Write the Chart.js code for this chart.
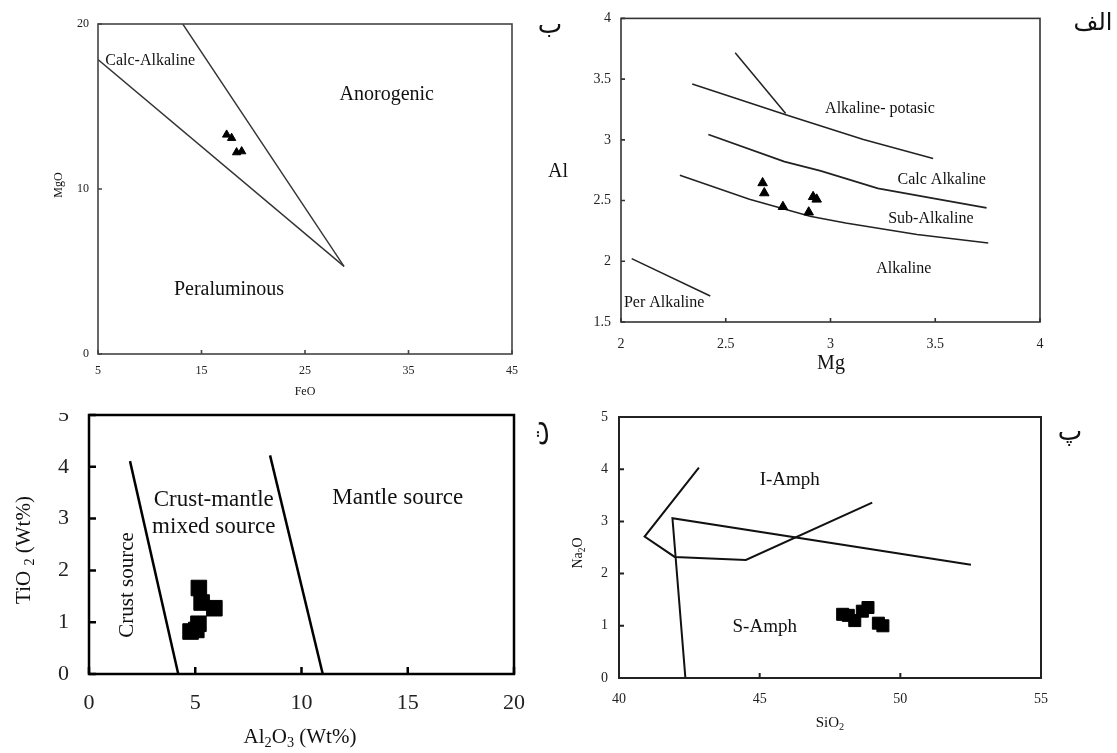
<!DOCTYPE html>
<html>
<head>
<meta charset="utf-8">
<script src="https://cdn.jsdelivr.net/npm/chart.js@4.4.1/dist/chart.umd.min.js"></script>
<style>
html, body { margin: 0; padding: 0; background: #fff; }
#page { position: relative; width: 1117px; height: 753px; overflow: hidden; background: #fff; }
.panel { position: absolute; left: 0; top: 0; width: 1117px; height: 753px; }
#mask { position: absolute; left: 40px; top: 395px; width: 45px; height: 18px; background: #fff; }
</style>
</head>
<body>
<div id="page">
  <div class="panel"><canvas id="chartT"></canvas></div>
  <div id="mask"></div>
  <div class="panel"><canvas id="chartB"></canvas></div>
  <div class="panel"><canvas id="chartAlef"></canvas></div>
  <div class="panel"><canvas id="chartP"></canvas></div>
</div>
<script>
// ---- panel ب : FeO vs MgO ----
const feoTicks = [5, 15, 25, 35, 45];
const mgoTicks = [0, 10, 20];
const feoSamples = [17.43, 17.91, 18.39, 18.88];
const mgoSamples = [13.29, 13.09, 12.22, 12.28];
const calcAlkLowerLine = [[5, 17.84], [28.77, 5.31]];
const calcAlkUpperLine = [[13.19, 20], [28.77, 5.31]];

// ---- panel الف : Mg vs Al ----
const mgTicks = [2, 2.5, 3, 3.5, 4];
const alTicks = [1.5, 2, 2.5, 3, 3.5, 4];
const mgSamples = [2.676, 2.684, 2.773, 2.896, 2.917, 2.934];
const alSamples = [2.645, 2.562, 2.449, 2.404, 2.531, 2.510];
const potasicLine = [[2.34, 3.46], [2.79, 3.205], [3.157, 3.003], [3.49, 2.846]];
const potasicSpur = [[2.545, 3.717], [2.786, 3.217]];
const calcAlkLine = [[2.417, 3.044], [2.78, 2.82], [2.953, 2.744], [3.226, 2.60], [3.498, 2.516], [3.745, 2.44]];
const subAlkLine = [[2.281, 2.709], [2.613, 2.511], [2.902, 2.371], [3.072, 2.316], [3.413, 2.22], [3.753, 2.151]];
const perAlkLine = [[2.051, 2.022], [2.426, 1.714]];

// ---- panel ت : Al2O3 vs TiO2 ----
const al2o3Ticks = [0, 5, 10, 15, 20];
const tio2Ticks = [0, 1, 2, 3, 4, 5];
const al2o3Samples = [5.17, 5.30, 5.90, 5.15, 4.78, 5.05];
const tio2Samples = [1.66, 1.38, 1.27, 0.97, 0.82, 0.85];
const crustLine = [[1.93, 4.11], [4.2, 0]];
const mantleLine = [[8.52, 4.22], [11.0, 0]];

// ---- panel پ : SiO2 vs Na2O ----
const sio2Ticks = [40, 45, 50, 55];
const na2oTicks = [0, 1, 2, 3, 4, 5];
const sio2Samples = [47.95, 48.15, 48.38, 48.65, 48.85, 49.22, 49.38];
const na2oSamples = [1.22, 1.20, 1.10, 1.28, 1.35, 1.05, 1.00];
const iAmphLine = [[42.84, 4.03], [40.91, 2.71], [41.98, 2.32], [44.51, 2.26], [49.0, 3.36]];
const sAmphLine = [[42.36, 0], [41.9, 3.06], [52.51, 2.17]];

const SERIF = '"Liberation Serif", "Times New Roman", serif';
const PERSIAN = '"DejaVu Sans", "Noto Sans", sans-serif';
const W = 1117, H = 753;

// متن با زیرنویس (Al2O3 ...)
function drawRich(ctx, parts, x, y, size, rot, align, family) {
  const fam = family || SERIF;
  const fontOf = p => (p.sub ? size * 0.68 : size) + 'px ' + fam;
  let w = 0;
  parts.forEach(p => { ctx.font = fontOf(p); w += ctx.measureText(p.t).width; });
  ctx.save();
  ctx.translate(x, y);
  ctx.rotate(rot || 0);
  let cx = align === 'left' ? 0 : (align === 'right' ? -w : -w / 2);
  ctx.textAlign = 'left';
  ctx.textBaseline = 'middle';
  ctx.fillStyle = '#111';
  parts.forEach(p => {
    ctx.font = fontOf(p);
    ctx.fillText(p.t, cx, p.sub ? size * 0.3 : 0);
    cx += ctx.measureText(p.t).width;
  });
  ctx.restore();
}

// frame, inner ticks and labels for a panel
function panelDecor(spec) {
  return {
    id: 'panelDecor',
    afterDraw(chart) {
      const ctx = chart.ctx, a = chart.chartArea;
      const sx = chart.scales.x, sy = chart.scales.y;
      ctx.save();
      ctx.strokeStyle = spec.frameColor;
      ctx.lineWidth = spec.frameWidth;
      ctx.strokeRect(a.left, a.top, a.right - a.left, a.bottom - a.top);
      ctx.beginPath();
      sx.ticks.forEach(t => {
        const px = sx.getPixelForValue(t.value);
        ctx.moveTo(px, a.bottom); ctx.lineTo(px, a.bottom - spec.tickLen);
      });
      sy.ticks.forEach(t => {
        const py = sy.getPixelForValue(t.value);
        ctx.moveTo(a.left, py); ctx.lineTo(a.left + spec.tickLen, py);
      });
      ctx.stroke();
      ctx.restore();
      spec.labels.forEach(l => {
        const px = l.page ? l.x : sx.getPixelForValue(l.x);
        const py = l.page ? l.y : sy.getPixelForValue(l.y);
        drawRich(ctx, l.parts || [{ t: l.text }], px, py, l.size, l.rot, l.align, l.family);
      });
    }
  };
}

function toPoints(pts) { return pts.map(p => ({ x: p[0], y: p[1] })); }
function zip(xs, ys) { return xs.map((x, i) => ({ x: x, y: ys[i] })); }

function lineSet(pts, color, width) {
  return { data: toPoints(pts), showLine: true, borderColor: color, borderWidth: width,
           pointRadius: 0, fill: false, tension: 0, order: 2 };
}
function sampleSet(xs, ys, style, r) {
  return { data: zip(xs, ys), showLine: false, pointStyle: style, pointRadius: r,
           backgroundColor: '#000', borderColor: '#000', pointBorderWidth: 1, order: 1 };
}

function makePanel(id, spec) {
  const a = spec.area;
  const fixedTicks = vals => function (scale) { scale.ticks = vals.map(v => ({ value: v })); };
  const plain = v => String(v);
  new Chart(document.getElementById(id), {
    type: 'scatter',
    data: { datasets: spec.datasets },
    options: {
      responsive: true,
      maintainAspectRatio: false,
      animation: false,
      events: [],
      layout: { padding: { left: a.left - spec.yw, top: a.top, right: W - a.right, bottom: H - a.bottom - spec.xh } },
      plugins: { legend: { display: false }, tooltip: { enabled: false } },
      scales: {
        x: {
          type: 'linear', min: spec.xTicks[0], max: spec.xTicks[spec.xTicks.length - 1],
          afterBuildTicks: fixedTicks(spec.xTicks),
          afterFit: s => { s.height = spec.xh; },
          grid: { display: false, drawTicks: false },
          border: { display: false },
          ticks: { font: { family: SERIF, size: spec.tickSize }, color: '#222', padding: spec.xPad,
                   maxRotation: 0, autoSkip: false, callback: plain }
        },
        y: {
          type: 'linear', min: spec.yTicks[0], max: spec.yTicks[spec.yTicks.length - 1],
          afterBuildTicks: fixedTicks(spec.yTicks),
          afterFit: s => { s.width = spec.yw; },
          grid: { display: false, drawTicks: false },
          border: { display: false },
          ticks: { font: { family: SERIF, size: spec.tickSize }, color: '#222', padding: spec.yPad,
                   autoSkip: false, callback: plain }
        }
      }
    },
    plugins: [panelDecor(spec)]
  });
}

// ب
makePanel('chartB', {
  area: { left: 98, top: 24, right: 512, bottom: 354 },
  yw: 45, xh: 30, xPad: 10, yPad: 9, tickSize: 12,
  xTicks: feoTicks, yTicks: mgoTicks,
  frameColor: '#444', frameWidth: 1.6, tickLen: 4,
  datasets: [
    lineSet(calcAlkLowerLine, '#333', 1.4),
    lineSet(calcAlkUpperLine, '#333', 1.4),
    sampleSet(feoSamples, mgoSamples, 'triangle', 4.8)
  ],
  labels: [
    { text: 'Calc-Alkaline', x: 5.7, y: 17.8, size: 16, align: 'left' },
    { text: 'Anorogenic', x: 32.9, y: 15.7, size: 20 },
    { text: 'Peraluminous', x: 17.65, y: 3.9, size: 20 },
    { text: 'MgO', x: 59, y: 185, size: 12, rot: -Math.PI / 2, page: true },
    { text: 'FeO', x: 305, y: 392, size: 12, page: true },
    { text: 'ب', x: 550, y: 26, size: 26, page: true, family: PERSIAN }
  ]
});

// الف
makePanel('chartAlef', {
  area: { left: 621, top: 18, right: 1040, bottom: 322 },
  yw: 45, xh: 30, xPad: 14, yPad: 10, tickSize: 14,
  xTicks: mgTicks, yTicks: alTicks,
  frameColor: '#333', frameWidth: 1.6, tickLen: 4,
  datasets: [
    lineSet(potasicLine, '#222', 1.5),
    lineSet(potasicSpur, '#222', 1.5),
    lineSet(calcAlkLine, '#222', 1.8),
    lineSet(subAlkLine, '#222', 1.5),
    lineSet(perAlkLine, '#222', 1.5),
    sampleSet(mgSamples, alSamples, 'triangle', 5.5)
  ],
  labels: [
    { text: 'Alkaline- potasic', x: 3.236, y: 3.252, size: 16 },
    { text: 'Calc Alkaline', x: 3.531, y: 2.668, size: 16 },
    { text: 'Sub-Alkaline', x: 3.479, y: 2.346, size: 16 },
    { text: 'Alkaline', x: 3.35, y: 1.942, size: 16 },
    { text: 'Per Alkaline', x: 2.206, y: 1.662, size: 16 },
    { text: 'Al', x: 558, y: 172, size: 20, page: true },
    { text: 'Mg', x: 831, y: 364, size: 20, page: true },
    { text: 'الف', x: 1093, y: 24, size: 24, page: true, family: PERSIAN }
  ]
});

// ت
makePanel('chartT', {
  area: { left: 89, top: 415, right: 514, bottom: 674 },
  yw: 45, xh: 45, xPad: 16, yPad: 20, tickSize: 22,
  xTicks: al2o3Ticks, yTicks: tio2Ticks,
  frameColor: '#000', frameWidth: 2.5, tickLen: 7,
  datasets: [
    lineSet(crustLine, '#000', 2.5),
    lineSet(mantleLine, '#000', 2.5),
    sampleSet(al2o3Samples, tio2Samples, 'rect', 11)
  ],
  labels: [
    { text: 'Crust-mantle', x: 5.87, y: 3.36, size: 23 },
    { text: 'mixed source', x: 5.87, y: 2.84, size: 23 },
    { text: 'Mantle source', x: 14.53, y: 3.40, size: 23 },
    { text: 'Crust source', x: 1.8, y: 1.72, size: 21, rot: -Math.PI / 2 },
    { parts: [{ t: 'TiO ' }, { t: '2', sub: true }, { t: ' (Wt%)' }], x: 24, y: 550, size: 21, rot: -Math.PI / 2, page: true },
    { parts: [{ t: 'Al' }, { t: '2', sub: true }, { t: 'O' }, { t: '3', sub: true }, { t: ' (Wt%)' }], x: 300, y: 737, size: 21, page: true },
    { text: 'ت', x: 541, y: 433, size: 28, rot: -Math.PI / 2, page: true, family: PERSIAN }
  ]
});

// پ
makePanel('chartP', {
  area: { left: 619, top: 417, right: 1041, bottom: 678 },
  yw: 45, xh: 30, xPad: 13, yPad: 11, tickSize: 14,
  xTicks: sio2Ticks, yTicks: na2oTicks,
  frameColor: '#222', frameWidth: 2, tickLen: 5,
  datasets: [
    lineSet(iAmphLine, '#111', 2),
    lineSet(sAmphLine, '#111', 2),
    sampleSet(sio2Samples, na2oSamples, 'rect', 8.5)
  ],
  labels: [
    { text: 'I-Amph', x: 46.07, y: 3.79, size: 19 },
    { text: 'S-Amph', x: 45.18, y: 0.98, size: 19 },
    { parts: [{ t: 'Na' }, { t: '2', sub: true }, { t: 'O' }], x: 578, y: 553, size: 14, rot: -Math.PI / 2, page: true },
    { parts: [{ t: 'SiO' }, { t: '2', sub: true }], x: 830, y: 723, size: 15, page: true },
    { text: 'پ', x: 1070, y: 433, size: 26, page: true, family: PERSIAN }
  ]
});
</script>
</body>
</html>
